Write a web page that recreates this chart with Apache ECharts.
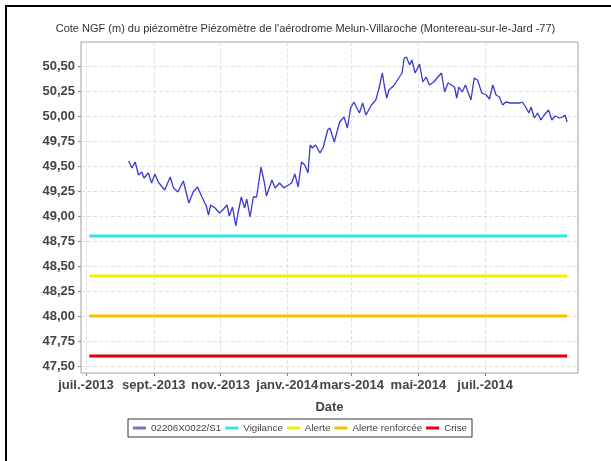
<!DOCTYPE html>
<html>
<head>
<meta charset="utf-8">
<script src="https://cdn.jsdelivr.net/npm/echarts@6/dist/echarts.min.js"></script>
<style>
html,body{margin:0;padding:0;background:#fff}
#chart{width:611px;height:461px}
</style>
</head>
<body>
<div id="chart"></div>
<script>
// relevés du piézomètre (cote NGF en m)
var dates = [
  '2013-08-09','2013-08-12','2013-08-15','2013-08-18','2013-08-21','2013-08-23','2013-08-27','2013-08-30',
  '2013-09-02','2013-09-05','2013-09-11','2013-09-16','2013-09-19','2013-09-23','2013-09-28',
  '2013-10-03','2013-10-07','2013-10-11','2013-10-15','2013-10-19','2013-10-21','2013-10-23','2013-10-27','2013-10-31',
  '2013-11-03','2013-11-07','2013-11-09','2013-11-12','2013-11-15','2013-11-17','2013-11-20','2013-11-23','2013-11-25','2013-11-28',
  '2013-12-01','2013-12-04','2013-12-08','2013-12-11','2013-12-13','2013-12-18','2013-12-21','2013-12-25','2013-12-29',
  '2014-01-02','2014-01-05','2014-01-08','2014-01-11','2014-01-14','2014-01-17','2014-01-20','2014-01-22','2014-01-24','2014-01-27','2014-01-31',
  '2014-02-03','2014-02-07','2014-02-09','2014-02-13','2014-02-18','2014-02-22','2014-02-25','2014-02-28',
  '2014-03-03','2014-03-08','2014-03-11','2014-03-14','2014-03-19','2014-03-23','2014-03-26','2014-03-29','2014-03-31',
  '2014-04-02','2014-04-04','2014-04-09','2014-04-13','2014-04-16','2014-04-18','2014-04-20','2014-04-23','2014-04-25','2014-04-28',
  '2014-05-02','2014-05-05','2014-05-08','2014-05-11','2014-05-15','2014-05-18','2014-05-22','2014-05-25','2014-05-28','2014-05-31',
  '2014-06-03','2014-06-05','2014-06-07','2014-06-10','2014-06-13','2014-06-18','2014-06-21','2014-06-24','2014-06-28',
  '2014-07-02','2014-07-05','2014-07-08','2014-07-11','2014-07-14','2014-07-17','2014-07-20','2014-07-24','2014-07-29',
  '2014-08-02','2014-08-04','2014-08-07','2014-08-10','2014-08-12','2014-08-15','2014-08-18','2014-08-21','2014-08-24','2014-08-28','2014-08-31',
  '2014-09-03','2014-09-07','2014-09-10','2014-09-12','2014-09-14'
];
var levels = [
  49.55,49.48,49.54,49.41,49.44,49.38,49.43,49.33,
  49.42,49.34,49.26,49.39,49.28,49.24,49.35,
  49.13,49.24,49.29,49.19,49.10,49.01,49.11,49.08,49.03,
  49.06,49.11,49.00,49.09,48.90,49.03,49.19,49.08,49.17,48.99,
  49.19,49.19,49.49,49.34,49.20,49.36,49.28,49.33,49.28,
  49.31,49.33,49.42,49.29,49.54,49.51,49.43,49.71,49.68,49.71,49.63,
  49.69,49.86,49.88,49.74,49.94,49.99,49.88,50.08,
  50.14,50.03,50.13,50.01,50.11,50.16,50.28,50.43,50.29,
  50.18,50.26,50.31,50.38,50.43,50.58,50.59,50.51,50.56,50.43,
  50.52,50.34,50.39,50.31,50.34,50.38,50.43,50.24,50.33,50.31,
  50.29,50.18,50.29,50.24,50.31,50.16,50.38,50.36,50.23,
  50.21,50.17,50.31,50.21,50.19,50.11,50.14,50.13,50.13,
  50.13,50.14,50.09,50.03,50.09,49.98,50.03,49.96,50.01,50.06,49.96,
  50.00,49.98,49.99,50.01,49.94
];
var seriesName = '02206X0022/S1';

// seuils
var thresholdNames = ['Vigilance', 'Alerte', 'Alerte renforcée', 'Crise'];
var thresholdValues = [48.80, 48.40, 48.00, 47.60];
var thresholdSpan = ['2013-07-04', '2014-09-14'];

// graduations
var xTickDates = ['2013-07-01','2013-09-01','2013-11-01','2014-01-01','2014-03-01','2014-05-01','2014-07-01'];
var xTickLabels = ['juil.-2013','sept.-2013','nov.-2013','janv.-2014','mars-2014','mai-2014','juil.-2014'];
var xRange = ['2013-06-26 10:00', '2014-09-23 22:00'];
var yTicks = [47.50,47.75,48.00,48.25,48.50,48.75,49.00,49.25,49.50,49.75,50.00,50.25,50.50];

var thresholdColors = ['#2ee6e6', '#f2f200', '#f5c000', '#e60000'];
var font = '"Liberation Sans", Arial, sans-serif';

function t(d) { return +echarts.time.parse(d); }

var chart = echarts.init(document.getElementById('chart'));

var xTickTimes = xTickDates.map(t);

var series = [{
  name: seriesName,
  type: 'line',
  showSymbol: false,
  symbol: 'none',
  lineStyle: { color: '#3a3ad0', width: 1.3 },
  itemStyle: { color: '#3a3ad0' },
  data: dates.map(function (d, i) { return [t(d), levels[i]]; })
}];
thresholdNames.forEach(function (n, i) {
  series.push({
    name: n,
    type: 'line',
    showSymbol: false,
    symbol: 'none',
    lineStyle: { color: thresholdColors[i], width: 3 },
    itemStyle: { color: thresholdColors[i] },
    data: thresholdSpan.map(function (d) { return [t(d), thresholdValues[i]]; })
  });
});

var legendColors = ['#8070c8'].concat(thresholdColors);

chart.setOption({
  animation: false,
  backgroundColor: '#fff',
  textStyle: { fontFamily: font },
  title: {
    text: "Cote NGF (m) du piézomètre Piézomètre de l'aérodrome Melun-Villaroche (Montereau-sur-le-Jard -77)",
    left: 'center',
    top: 18,
    textStyle: { fontSize: 11, fontWeight: 'normal', color: '#333', fontFamily: font }
  },
  graphic: [{
    // cadre noir (haut et gauche seulement, le reste est hors image)
    type: 'polyline',
    shape: { points: [[6, 470], [6, 6], [620, 6]] },
    style: { fill: null, stroke: '#000', lineWidth: 2 },
    silent: true
  }],
  grid: {
    left: 81, right: 33, top: 42, bottom: 88,
    show: true, borderColor: '#a0a0a0', borderWidth: 1, backgroundColor: '#fff'
  },
  legend: {
    left: 128,
    top: 419,
    padding: [4, 5],
    itemGap: 4,
    itemWidth: 13,
    itemHeight: 3,
    borderColor: '#333',
    borderWidth: 1,
    textStyle: { fontSize: 9.8, color: '#444', fontFamily: font },
    data: [seriesName].concat(thresholdNames).map(function (n, i) {
      return { name: n, icon: 'rect', itemStyle: { color: legendColors[i] } };
    })
  },
  xAxis: {
    type: 'value',
    min: t(xRange[0]),
    max: t(xRange[1]),
    name: 'Date',
    nameLocation: 'middle',
    nameGap: 28,
    nameTextStyle: { fontSize: 13, fontWeight: 'bold', color: '#444', fontFamily: font },
    axisLine: { show: false },
    axisTick: { show: true, customValues: xTickTimes, length: 3, lineStyle: { color: '#888' } },
    axisLabel: {
      customValues: xTickTimes,
      hideOverlap: false,
      margin: 6,
      fontSize: 13,
      fontWeight: 'bold',
      color: '#444',
      fontFamily: font,
      formatter: function (v) {
        var i = xTickTimes.indexOf(+v);
        return i >= 0 ? xTickLabels[i] : '';
      }
    },
    splitLine: { show: true, lineStyle: { color: '#e2e2e2', type: 'dashed' } }
  },
  yAxis: {
    type: 'value',
    min: 47.43,
    max: 50.74,
    axisLine: { show: false },
    axisTick: { show: true, customValues: yTicks, length: 3, lineStyle: { color: '#888' } },
    axisLabel: {
      customValues: yTicks,
      margin: 6,
      fontSize: 13,
      fontWeight: 'bold',
      color: '#444',
      fontFamily: font,
      formatter: function (v) { return v.toFixed(2).replace('.', ','); }
    },
    splitLine: { show: true, lineStyle: { color: '#e2e2e2', type: 'dashed' } }
  },
  series: series
});
</script>
</body>
</html>
